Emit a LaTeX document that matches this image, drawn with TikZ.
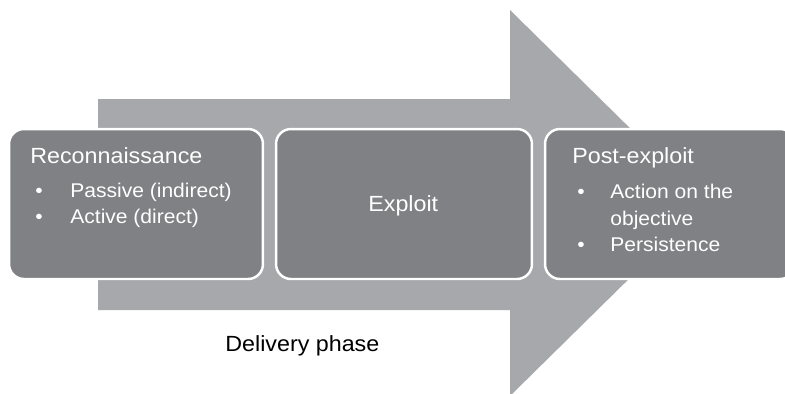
\documentclass[tikz,border=0pt]{standalone}
\usepackage{fontspec}
\setmainfont{Liberation Sans}[FakeStretch=1.06]
\usepackage{tikz}
\usetikzlibrary{positioning}
\definecolor{shaftgray}{RGB}{167,168,172}
\definecolor{phasegray}{RGB}{128,129,133}
\tikzset{
x=0.02cm, y=-0.02cm, % one unit is one pixel, y runs downwards
phasebox/.style={fill=phasegray, draw=white, line width=1.4pt, rounded corners=8.5pt, minimum height=3cm}, % the three dark stages
title/.style={anchor=base west, inner sep=0pt, text=white, font=\fontsize{12.5}{15}\selectfont},
item/.style={anchor=base west, inner sep=0pt, text=white, font=\fontsize{11.3}{13}\selectfont},
}

\begin{document}
\begin{tikzpicture}
  \clip (0,0) rectangle (785,393);

  % Big arrow
  \fill[shaftgray] (98,99) -- (510,99) -- (510,10) -- (706,203) -- (510,396)
    -- (510,310) -- (98,310) -- cycle;

  % Reconnaissance
  \node[phasebox, minimum width=5.08cm] at (136,204) (recon){};
  \node[title] at (30,163) (recontitle){Reconnaissance};
  \node[item] at (35,197) (reconbulleta){•};
  \node[item] at (70,197) (passive){Passive (indirect)};
  \node[item] at (35,223) (reconbulletb){•};
  \node[item] at (70,223) (active){Active (direct)};

  % Exploit
  \node[phasebox, minimum width=5.12cm] at (404,204) (exploit){};
  \node[title] at (368,211) (exploittitle){Exploit};

  % Post-exploit
  \node[phasebox, minimum width=5cm] at (670,204) (post){};
  \node[title] at (572,163) (posttitle){Post-exploit};
  \node[item] at (577,198) (postbulleta){•};
  \node[item] at (610,198) (action){Action on the};
  \node[item] at (610,225) (objective){objective};
  \node[item] at (577,251) (postbulletb){•};
  \node[item] at (610,251) (persist){Persistence};

  % Delivery phase
  \node[title, text=black] at (225,351) (delivery){Delivery phase};
\end{tikzpicture}
\end{document}
